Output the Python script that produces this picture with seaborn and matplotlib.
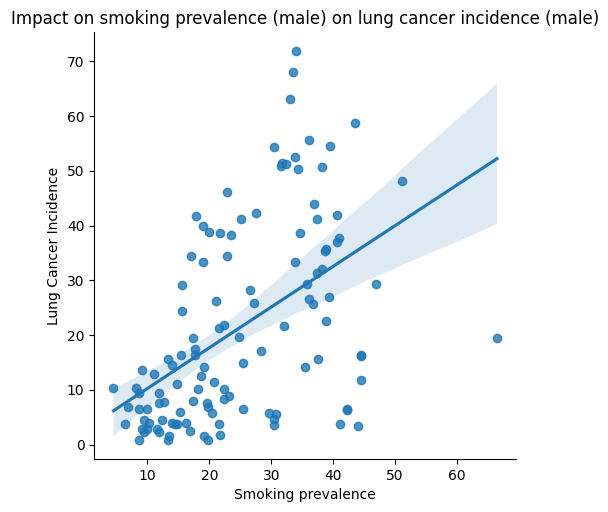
import pandas as pd
import matplotlib
matplotlib.use("Agg")
import matplotlib.pyplot as plt
import seaborn as sns

smoking = [34.0, 33.5, 33.1, 43.5, 36.1, 39.5, 30.5, 33.9, 31.8, 32.4,
           31.6, 34.4, 38.2, 51.1, 22.9, 36.9, 27.6, 25.2, 37.4, 40.6,
           17.9, 19.0, 20.0, 21.8, 23.5, 34.7, 41.0, 40.6, 38.9, 38.7,
           17.1, 22.9, 18.9, 33.9, 37.4, 38.2, 15.6, 35.8, 46.9, 26.5,
           21.0, 27.3, 36.1, 36.8, 39.4, 15.6, 22.3, 21.6, 32.1, 38.9,
           17.3, 24.8, 66.5, 28.4, 17.7, 17.7, 15.5, 13.4, 37.6, 44.5,
           44.5, 25.5, 35.5, 14.0, 19.2, 9.2, 11.1, 18.7, 44.5, 20.8,
           14.8, 4.5, 8.1, 18.2, 22.3, 8.7, 11.9, 22.4, 23.2, 17.4,
           11.9, 12.7, 19.7, 19.8, 6.8, 8.7, 10.0, 25.5, 42.3, 42.2,
           15.3, 20.5, 29.7, 30.8, 30.5, 30.5, 12.4, 9.5, 10.3, 13.9,
           14.4, 14.8, 16.3, 6.3, 21.5, 41.1, 44.0, 9.1, 9.9, 9.5,
           11.6, 11.8, 16.8, 21.8, 13.5, 13.4, 8.7, 19.2, 19.8]

lung_cancer = [71.8, 68.0, 63.1, 58.7, 55.7, 54.6, 54.3, 52.5, 51.4, 51.3,
               50.8, 50.3, 50.6, 48.2, 46.2, 43.9, 42.2, 41.1, 41.1, 41.9,
               41.7, 40.0, 38.9, 38.6, 38.2, 38.7, 37.8, 36.9, 35.8, 35.4,
               34.5, 34.5, 33.3, 33.3, 31.4, 32.0, 29.2, 29.4, 29.4, 28.3,
               26.3, 25.8, 26.5, 25.6, 26.9, 24.3, 21.9, 21.2, 21.6, 22.5,
               19.4, 19.6, 19.4, 17.0, 17.4, 16.3, 16.4, 15.7, 15.7, 16.3,
               16.1, 14.8, 14.1, 14.6, 14.1, 13.7, 12.8, 12.6, 11.7, 11.5,
               11.0, 10.4, 10.4, 10.2, 10.2, 9.5, 9.5, 8.4, 8.8, 7.9,
               7.5, 7.7, 7.5, 6.8, 6.8, 6.4, 6.4, 6.4, 6.4, 6.3,
               6.0, 5.8, 5.7, 5.5, 4.6, 3.5, 4.4, 4.4, 4.0, 4.0,
               3.7, 3.7, 4.0, 3.8, 3.7, 3.8, 3.3, 2.9, 2.9, 2.2,
               2.9, 2.2, 2.4, 1.8, 1.6, 0.9, 0.9, 1.5, 0.9]

df = pd.DataFrame({"Smoking prevalence": smoking,
                   "Lung Cancer Incidence": lung_cancer})

fig, ax = plt.subplots(figsize=(6.08, 5.12), dpi=100)
fig.subplots_adjust(left=0.155, right=0.849, bottom=0.1035, top=0.9375)
sns.regplot(data=df, x="Smoking prevalence", y="Lung Cancer Incidence", ax=ax)
sns.despine(ax=ax)
ax.set_title("Impact on smoking prevalence (male) on lung cancer incidence (male)")
fig.savefig("out.png", dpi=100)
